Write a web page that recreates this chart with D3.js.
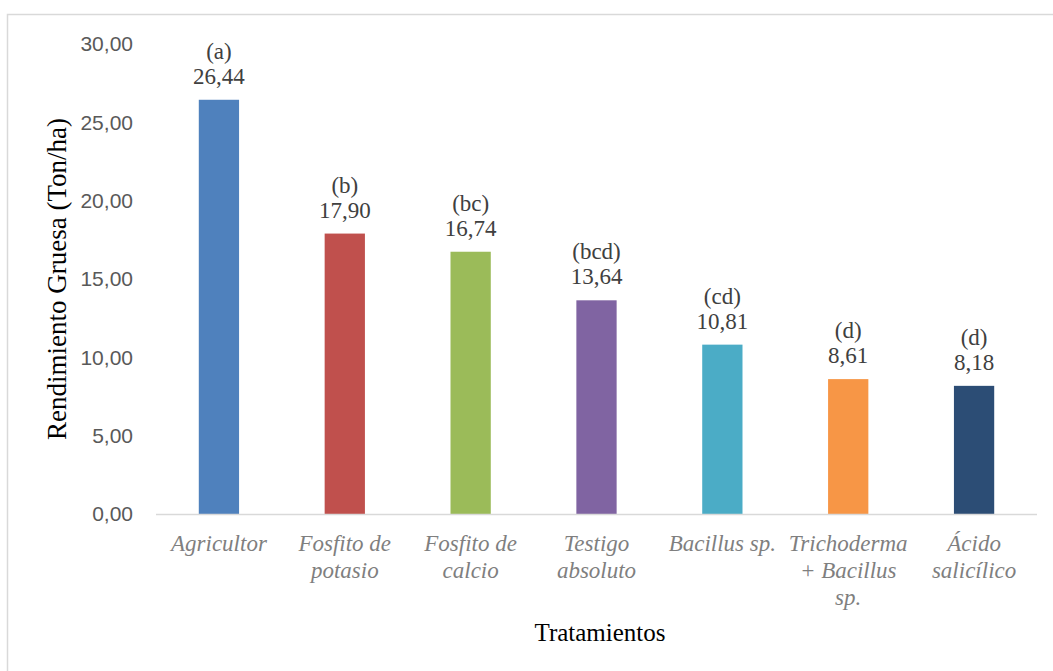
<!DOCTYPE html>
<html>
<head>
<meta charset="utf-8">
<script src="https://cdn.jsdelivr.net/npm/d3@7"></script>
<style>
  html, body { margin: 0; padding: 0; background: #fff; }
  svg { display: block; }
  .serif { font-family: "Liberation Serif", "Times New Roman", serif; }
  .sans { font-family: "Liberation Sans", Arial, sans-serif; }
</style>
</head>
<body>
<svg id="chart" width="1053" height="671"></svg>
<script>
// Treatments, mean yield (Ton/ha) and significance groups
const categories = [
  ["Agricultor"],
  ["Fosfito de", "potasio"],
  ["Fosfito de", "calcio"],
  ["Testigo", "absoluto"],
  ["Bacillus sp."],
  ["Trichoderma", "+ Bacillus", "sp."],
  ["Ácido", "salicílico"]
];
const values = [26.44, 17.90, 16.74, 13.64, 10.81, 8.61, 8.18];
const groups = ["(a)", "(b)", "(bc)", "(bcd)", "(cd)", "(d)", "(d)"];
const yTicks = [0, 5, 10, 15, 20, 25, 30];
const colors = ["#4F81BD", "#C0504D", "#9BBB59", "#8064A2", "#4BACC6", "#F79646", "#2C4D75"];

const svg = d3.select("#chart");
const fmt = v => d3.format(".2f")(v).replace(".", ",");

const plot = { left: 156, right: 1037, top: 44, bottom: 514 };

// Chart frame
svg.append("rect")
  .attr("x", 7.5).attr("y", 14.5)
  .attr("width", 1070).attr("height", 680)
  .attr("fill", "none").attr("stroke", "#d9d9d9").attr("stroke-width", 1.5);

const idx = categories.map((d, i) => i);
const x = d3.scaleBand()
  .domain(idx)
  .range([plot.left, plot.right])
  .paddingInner(0.68)
  .paddingOuter(0.34);

const y = d3.scaleLinear().domain([0, 30]).range([plot.bottom, plot.top]);

// Y axis labels (no line, no ticks)
const yAxis = svg.append("g")
  .attr("transform", `translate(${plot.left},0)`)
  .call(d3.axisLeft(y).tickValues(yTicks).tickFormat(fmt).tickSize(0).tickPadding(23));
yAxis.select(".domain").remove();
yAxis.selectAll("text")
  .attr("class", "sans")
  .attr("font-family", null)
  .style("font-size", "21px")
  .attr("fill", "#595959");

// Bars
svg.append("g").selectAll("rect")
  .data(values)
  .join("rect")
  .attr("x", (d, i) => x(i))
  .attr("y", d => y(d))
  .attr("width", x.bandwidth())
  .attr("height", d => y(0) - y(d))
  .attr("fill", (d, i) => colors[i]);

// Category axis
svg.append("line")
  .attr("x1", plot.left).attr("x2", plot.right)
  .attr("y1", plot.bottom + 0.5).attr("y2", plot.bottom + 0.5)
  .attr("stroke", "#d9d9d9").attr("stroke-width", 1.5);

const xl = svg.append("g").selectAll("text")
  .data(categories)
  .join("text")
  .attr("class", "serif")
  .attr("x", (d, i) => x(i) + x.bandwidth() / 2)
  .attr("y", 551)
  .attr("text-anchor", "middle")
  .style("font-style", "italic")
  .style("font-size", "23px")
  .attr("fill", "#7f7f7f");
xl.selectAll("tspan")
  .data(d => d)
  .join("tspan")
  .attr("x", function () { return d3.select(this.parentNode).attr("x"); })
  .attr("dy", (d, j) => j === 0 ? 0 : 27)
  .text(d => d);

// Data labels: group letters above value
const lab = svg.append("g").selectAll("g")
  .data(values)
  .join("g")
  .attr("transform", (d, i) => `translate(${x(i) + x.bandwidth() / 2},${y(d)})`);
lab.append("text")
  .attr("class", "serif").attr("text-anchor", "middle")
  .style("font-size", "23px").attr("fill", "#404040")
  .attr("y", -41).text((d, i) => groups[i]);
lab.append("text")
  .attr("class", "serif").attr("text-anchor", "middle")
  .style("font-size", "23px").attr("fill", "#404040")
  .attr("y", -16).text(d => fmt(d));

// Axis titles
svg.append("text")
  .attr("class", "serif")
  .attr("x", 600).attr("y", 641)
  .attr("text-anchor", "middle")
  .style("font-size", "25px")
  .attr("fill", "#000")
  .text("Tratamientos");

svg.append("text")
  .attr("class", "serif")
  .attr("transform", "translate(66,279) rotate(-90)")
  .attr("text-anchor", "middle")
  .style("font-size", "27px")
  .attr("fill", "#000")
  .text("Rendimiento Gruesa (Ton/ha)");
</script>
</body>
</html>
